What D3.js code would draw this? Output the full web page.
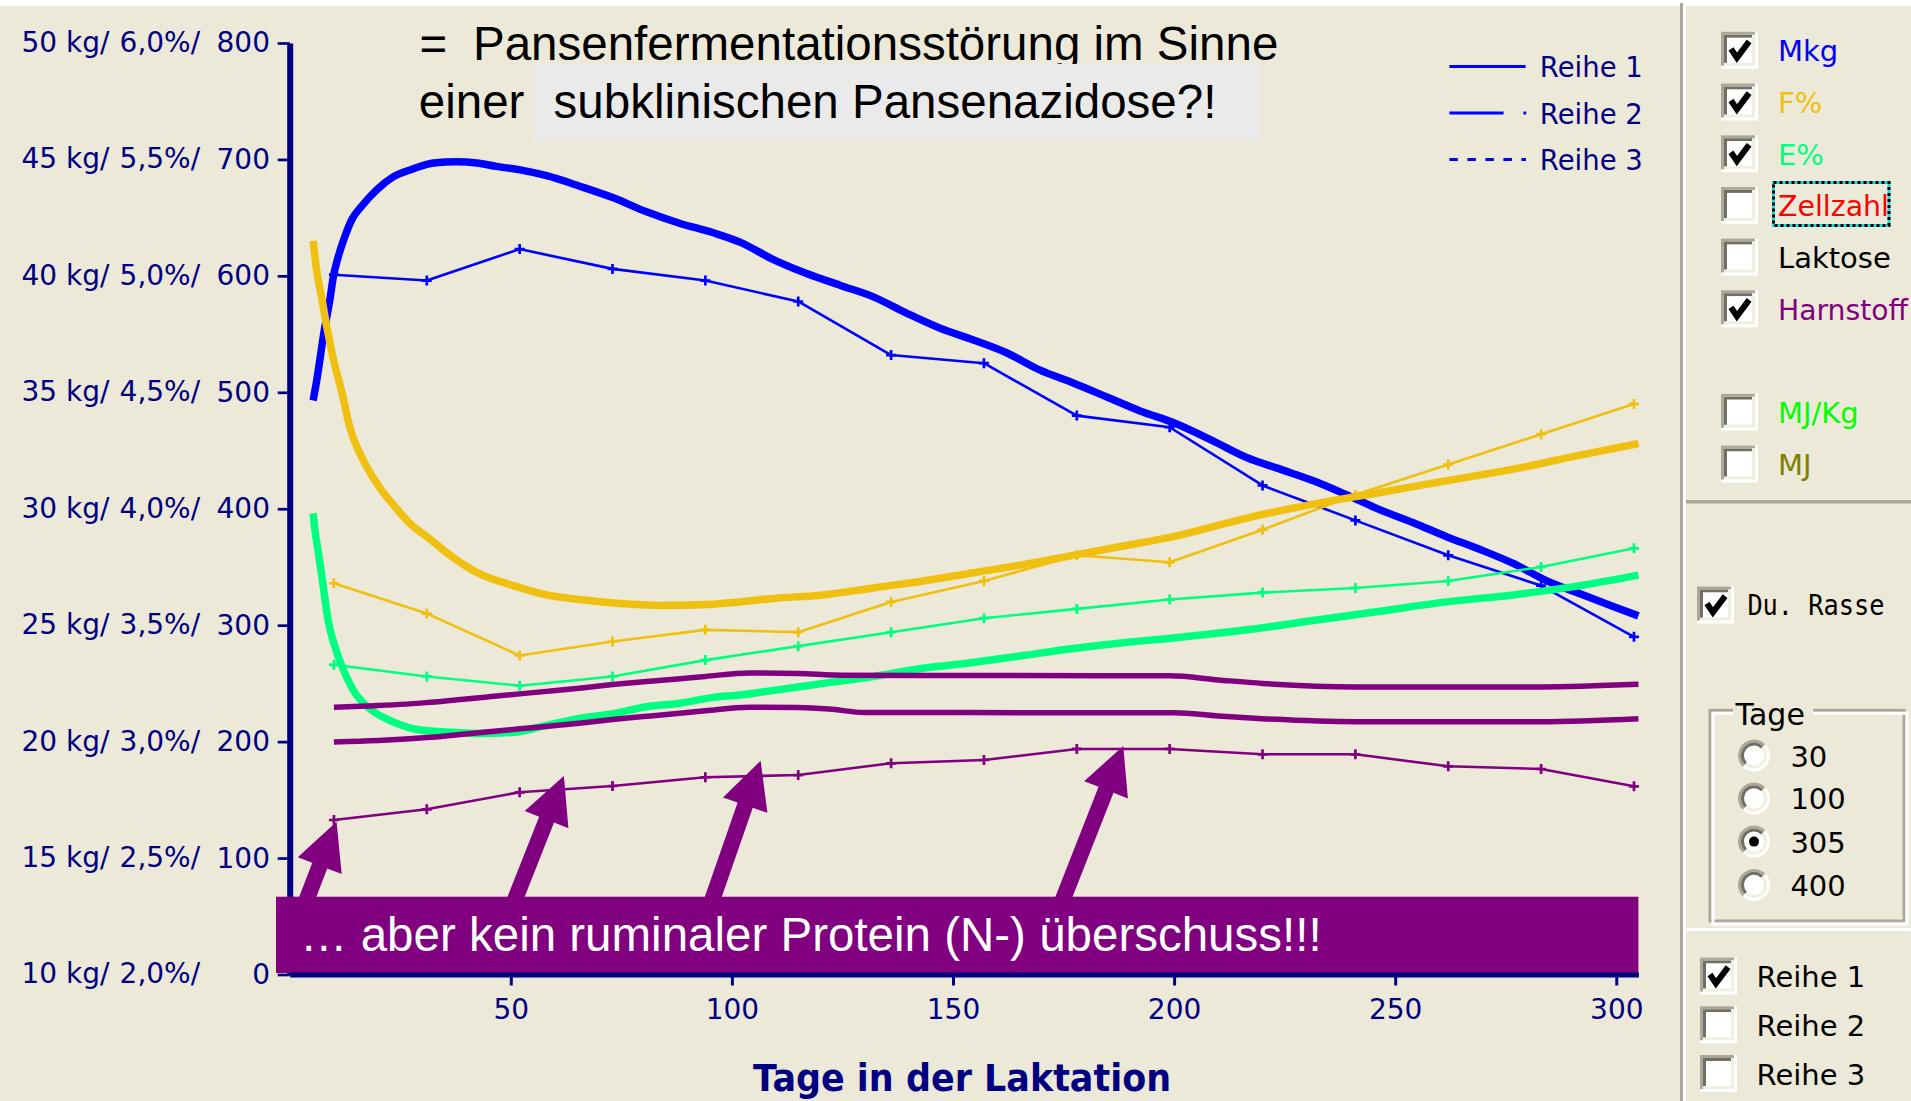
<!DOCTYPE html>
<html>
<head>
<meta charset="utf-8">
<script src="https://cdn.jsdelivr.net/npm/d3@7"></script>
<style>
  body { margin: 0; background: #ECE9D8; overflow: hidden; }
  svg { display: block; }
</style>
</head>
<body>
<div id="vis"></div>
<script>
// ---- data ----
// test days (the + markers), 21 days apart
const testDays = [10, 31, 52, 73, 94, 115, 136, 157, 178, 199, 220, 241, 262, 283, 304];
const mkgTest = [40.05, 39.8, 41.15, 40.3, 39.8, 38.9, 36.6, 36.25, 34.0, 33.5, 31.0, 29.5, 28.0, 26.7, 24.5];
const fettTest = [3.68, 3.55, 3.37, 3.43, 3.48, 3.47, 3.60, 3.69, 3.80, 3.77, 3.91, 4.06, 4.19, 4.32, 4.45];
const eiweissTest = [3.33, 3.28, 3.24, 3.28, 3.35, 3.41, 3.47, 3.53, 3.57, 3.61, 3.64, 3.66, 3.69, 3.75, 3.83];
const harnstoffTest = [132.7, 141.9, 156.5, 161.9, 169.4, 171.3, 181.4, 184.2, 193.7, 193.7, 189.1, 189.1, 178.8, 176.5, 161.6];

// smooth curves [day, value]
const mkgCurve = [[5.3,34.65],[6.1,35.5],[6.9,36.5],[7.6,37.4],[9.1,39.0],[9.9,40.0],[10.8,40.7],[12.5,41.7],[14,42.4],[16.3,43.0],[19.7,43.7],[23.4,44.25],[28,44.6],[32.5,44.85],[37.8,44.9],[42.3,44.85],[46.8,44.7],[52.1,44.55],[58.1,44.3],[65.6,43.85],[73.2,43.35],[80.7,42.75],[88.3,42.25],[95.8,41.85],[101.8,41.45],[109.4,40.7],[116.9,40.1],[124.4,39.6],[132,39.1],[139.5,38.4],[147.1,37.75],[154.6,37.25],[162.1,36.7],[169.7,35.95],[177.2,35.4],[184.8,34.8],[192.3,34.2],[199.8,33.7],[208.9,32.9],[216.4,32.2],[224,31.7],[231.5,31.2],[239,30.6],[246.6,29.95],[254.1,29.4],[261.6,28.8],[269.2,28.25],[276.7,27.65],[284.3,26.9],[291.8,26.35],[299.3,25.8],[305,25.4]];
const fettCurve = [[5.3,5.15],[6.2,5.01],[7.2,4.91],[8.4,4.78],[9.9,4.64],[11.8,4.50],[13.6,4.35],[16.6,4.21],[20.4,4.09],[24.2,4.0],[27,3.94],[31.7,3.87],[37,3.79],[43,3.72],[50.6,3.67],[58.1,3.63],[65.6,3.61],[73.2,3.595],[84.5,3.585],[95.8,3.59],[101.8,3.60],[109.4,3.615],[120.7,3.63],[132,3.66],[143.3,3.69],[154.6,3.725],[165.9,3.76],[177.2,3.80],[188.5,3.84],[199.8,3.88],[216.4,3.96],[231.5,4.02],[246.6,4.07],[261.6,4.12],[276.7,4.17],[291.8,4.23],[305,4.28]];
const eiweissCurve = [[5.3,3.98],[5.7,3.91],[6.5,3.81],[7.6,3.665],[8.7,3.52],[10.2,3.41],[12.1,3.31],[14.4,3.22],[18.2,3.14],[23.4,3.085],[29.5,3.05],[37,3.04],[43,3.035],[50.6,3.04],[58.1,3.07],[65.6,3.10],[73.2,3.12],[80.7,3.15],[88.3,3.165],[95.8,3.19],[101.8,3.20],[109.4,3.22],[120.7,3.25],[132,3.28],[143.3,3.315],[154.6,3.34],[165.9,3.37],[177.2,3.40],[188.5,3.425],[199.8,3.445],[216.4,3.48],[231.5,3.52],[246.6,3.56],[261.6,3.60],[276.7,3.63],[291.8,3.67],[305,3.715]];
const harnUpper = [[10,229.5],[20,231],[31,233.5],[38,236],[45,238.5],[52,241],[59,243.5],[66,246],[73,249],[80,251.5],[87,253.5],[94,256],[104,259],[115,258.5],[125,257],[160,256.8],[199,256.5],[210,253],[220,250],[241,247],[283,247],[305,249.2]];
const harnLower = [[10,199.7],[20,201],[31,203.5],[38,206],[45,208.5],[52,211],[59,213.5],[66,216],[73,219],[80,221.5],[87,224],[94,226.5],[104,229.5],[115,229.3],[122,228],[130,225],[200,224.8],[210,222],[220,219.7],[241,217.1],[283,217.1],[305,219.7]];

// axis ticks
const yTicks = [0, 100, 200, 300, 400, 500, 600, 700, 800];
const kgLabels = ['10 kg/', '15 kg/', '20 kg/', '25 kg/', '30 kg/', '35 kg/', '40 kg/', '45 kg/', '50 kg/'];
const pctLabels = ['2,0%/', '2,5%/', '3,0%/', '3,5%/', '4,0%/', '4,5%/', '5,0%/', '5,5%/', '6,0%/'];
const xTicks = [50, 100, 150, 200, 250, 300];

// arrows: tail on the banner, tip on the Harnstoff points
const arrowTailDays = [4.1, 51.2, 95.8, 175.1];
const arrowTipDays = [10.6, 62.0, 106.5, 188.5];
const arrowTipValues = [131.2, 170.5, 183.6, 196.2];
const arrowTailValue = 66.8;

// side panel
const panelItems = ['Mkg', 'F%', 'E%', 'Zellzahl', 'Laktose', 'Harnstoff', 'MJ/Kg', 'MJ'];
const panelColors = ['#0000FF', '#F0C010', '#00FF80', '#FF0000', '#000000', '#800080', '#00FF00', '#808000'];
const panelChecked = [true, true, true, false, false, true, false, false];
const panelSlots = [0, 1, 2, 3, 4, 5, 7, 8];
const tageOptions = ['30', '100', '305', '400'];
const tageSelected = '305';
const reiheNames = ['Reihe 1', 'Reihe 2', 'Reihe 3'];
const reiheChecked = [true, false, false];

// ---- drawing ----
const W = 1911, H = 1101;
const navy = '#000080', blue = '#0000FF', gold = '#F0C010', green = '#00FF80', purple = '#800080';

let svg = d3.select('#vis').append('svg').attr('width', W).attr('height', H);
svg.append('rect').attr('width', W).attr('height', H).attr('fill', '#ECE9D8');
svg.append('rect').attr('width', W).attr('height', 6).attr('fill', '#fff');

let x = d3.scaleLinear().domain([0, 305]).range([289.7, 1638.4]);
let y = d3.scaleLinear().domain([0, 800]).range([974.5, 43]);
let yKg = d3.scaleLinear().domain([10, 50]).range([974.5, 43]);
let yPct = d3.scaleLinear().domain([2, 6]).range([974.5, 43]);

// Y axis
let yAxis = svg.append('g')
  .attr('transform', `translate(${x(0)},0)`)
  .call(d3.axisLeft(y).tickValues(yTicks).tickSize(12).tickSizeOuter(0).tickPadding(7.7))
  .attr('font-family', 'DejaVu Sans').attr('font-size', 28);
yAxis.select('.domain').attr('stroke', navy).attr('stroke-width', 6);
yAxis.selectAll('.tick line').attr('stroke', navy).attr('stroke-width', 2.7);
yAxis.selectAll('.tick text').attr('fill', navy);

let yLab = svg.append('g').attr('font-family', 'DejaVu Sans').attr('font-size', 28).attr('fill', navy);
yTicks.forEach(function(v, i) {
  yLab.append('text').attr('x', 21.4).attr('y', y(v)).attr('dy', '0.32em').text(kgLabels[i]);
  yLab.append('text').attr('x', 119.6).attr('y', y(v)).attr('dy', '0.32em').text(pctLabels[i]);
});

// lines
let lineOf = function(ys, curve) {
  return d3.line().x(d => x(d[0])).y(d => ys(d[1])).curve(curve || d3.curveLinear);
};
let zip = (vals) => testDays.map((d, i) => [d, vals[i]]);

let plot = svg.append('g').attr('fill', 'none').attr('stroke-linejoin', 'round');

function thin(vals, ys, color) {
  let pts = zip(vals);
  plot.append('path').attr('d', lineOf(ys)(pts)).attr('stroke', color).attr('stroke-width', 2.6);
  plot.selectAll(null).data(pts).enter().append('path')
    .attr('d', d => `M${x(d[0]) - 5},${ys(d[1])}h10M${x(d[0])},${ys(d[1]) - 5}v10`)
    .attr('stroke', color).attr('stroke-width', 2.7);
}
function thick(pts, ys, color, w) {
  plot.append('path').attr('d', lineOf(ys, d3.curveMonotoneX)(pts))
    .attr('stroke', color).attr('stroke-width', w);
}

thin(mkgTest, yKg, blue);
thick(mkgCurve, yKg, blue, 7.5);
thin(fettTest, yPct, gold);
thick(fettCurve, yPct, gold, 7.5);
thin(eiweissTest, yPct, green);
thick(eiweissCurve, yPct, green, 7.5);
thin(harnstoffTest, y, purple);
thick(harnUpper, y, purple, 5.5);
thick(harnLower, y, purple, 5.5);

// legend
let leg = svg.append('g');
let legY = [66.6, 113, 159.6];
leg.append('line').attr('x1', 1449.4).attr('x2', 1525.6).attr('y1', legY[0]).attr('y2', legY[0]).attr('stroke', blue).attr('stroke-width', 3);
leg.append('line').attr('x1', 1449.4).attr('x2', 1503.6).attr('y1', legY[1]).attr('y2', legY[1]).attr('stroke', blue).attr('stroke-width', 3);
leg.append('rect').attr('x', 1523.4).attr('y', legY[1] - 1.5).attr('width', 2.8).attr('height', 3).attr('fill', blue);
leg.append('line').attr('x1', 1449.4).attr('x2', 1526).attr('y1', legY[2]).attr('y2', legY[2]).attr('stroke', blue).attr('stroke-width', 3).attr('stroke-dasharray', '8.5,9.5');
leg.selectAll('text').data(reiheNames).enter().append('text')
  .attr('x', 1539.8).attr('y', (d, i) => legY[i] + 10.5)
  .attr('font-family', 'DejaVu Sans').attr('font-size', 27.5).attr('fill', navy).text(d => d);

// arrows
function arrowPoints(x0, y0, x1, y1) {
  let dx = x1 - x0, dy = y1 - y0, L = Math.hypot(dx, dy);
  let ux = dx / L, uy = dy / L, px = -uy, py = ux;
  let hl = 47, hw = 23.5, sw = 8;
  let bx = x1 - ux * hl, by = y1 - uy * hl;
  let tx = x0 - ux * 16, ty = y0 - uy * 16;
  return [[tx + px * sw, ty + py * sw], [bx + px * sw, by + py * sw], [bx + px * hw, by + py * hw],
          [x1, y1], [bx - px * hw, by - py * hw], [bx - px * sw, by - py * sw], [tx - px * sw, ty - py * sw]];
}
arrowTipDays.forEach(function(d, i) {
  let pts = arrowPoints(x(arrowTailDays[i]), y(arrowTailValue), x(d), y(arrowTipValues[i]));
  svg.append('polygon').attr('points', pts.map(p => p.join(',')).join(' ')).attr('fill', purple);
});

// banner
svg.append('rect')
  .attr('x', x(0) - 13.7).attr('y', y(arrowTailValue))
  .attr('width', x(305) - x(0) + 13.7).attr('height', y(0) - y(arrowTailValue) - 1.5)
  .attr('fill', purple);
svg.append('text').attr('x', 300).attr('y', 951)
  .attr('font-family', 'Liberation Sans, Arial, sans-serif').attr('font-size', 47.5).attr('fill', '#fff')
  .text('\u2026 aber kein ruminaler Protein (N-) \u00fcberschuss!!!');

// X axis (on top of banner bottom)
let xAxis = svg.append('g')
  .attr('transform', `translate(0,${y(0)})`)
  .call(d3.axisBottom(x).tickValues(xTicks).tickSize(11).tickSizeOuter(0).tickPadding(13.6))
  .attr('font-family', 'DejaVu Sans').attr('font-size', 28);
xAxis.select('.domain').attr('stroke', navy).attr('stroke-width', 5);
xAxis.selectAll('.tick line').attr('stroke', navy).attr('stroke-width', 3);
xAxis.selectAll('.tick text').attr('fill', navy);

svg.append('text').attr('x', (x(0) + x(305)) / 2 - 2).attr('y', 1091)
  .attr('text-anchor', 'middle').attr('font-family', 'DejaVu Sans').attr('font-weight', 'bold')
  .attr('font-size', 37).attr('textLength', 418).attr('lengthAdjust', 'spacingAndGlyphs')
  .attr('fill', navy).text('Tage in der Laktation');

// headline annotation
let note = svg.append('g').attr('font-family', 'Liberation Sans, Arial, sans-serif').attr('font-size', 47.5).attr('fill', '#000');
note.append('text').attr('x', 419.6).attr('y', 60).text('=');
note.append('text').attr('x', 473).attr('y', 60).text('Pansenfermentationsst\u00f6rung im Sinne');
note.append('rect').attr('x', 533.5).attr('y', 64).attr('width', 726).attr('height', 76.7).attr('fill', '#EAEAEA');
note.append('text').attr('x', 418.8).attr('y', 118).text('einer');
note.append('text').attr('x', 553.6).attr('y', 118).text('subklinischen Pansenazidose?!');

// ---- side panel ----
let panel = svg.append('g');
panel.append('rect').attr('x', 1680).attr('y', 3).attr('width', 3).attr('height', H).attr('fill', '#ACA899');
panel.append('rect').attr('x', 1683).attr('y', 3).attr('width', 3).attr('height', H).attr('fill', '#fff');
panel.append('rect').attr('x', 1686).attr('y', 500).attr('width', 225).attr('height', 3.5).attr('fill', '#ACA899');
panel.append('rect').attr('x', 1686).attr('y', 928).attr('width', 225).attr('height', 3).attr('fill', '#fff');

function checkbox(g, bx, yc, checked) {
  let s = 37, by = yc - s / 2;
  g.append('rect').attr('x', bx).attr('y', by).attr('width', s).attr('height', s).attr('fill', '#fff');
  g.append('path').attr('d', `M${bx},${by}h${s - 3}v3h${-(s - 6)}v${s - 6}h-3z`).attr('fill', '#ACA899');
  g.append('rect').attr('x', bx + 3).attr('y', by + 3).attr('width', s - 6).attr('height', s - 6).attr('fill', '#F1EFE2');
  g.append('path').attr('d', `M${bx + 3},${by + 3}h${s - 9}v3h${-(s - 12)}v${s - 12}h-3z`).attr('fill', '#716F64');
  g.append('rect').attr('x', bx + 6).attr('y', by + 6).attr('width', s - 12).attr('height', s - 12).attr('fill', '#fff');
  if (checked) {
    g.append('path')
      .attr('d', `M${bx + s * 0.27},${by + s * 0.46}L${bx + s * 0.43},${by + s * 0.70}L${bx + s * 0.76},${by + s * 0.26}`)
      .attr('fill', 'none').attr('stroke', '#000').attr('stroke-width', 6).attr('stroke-linejoin', 'miter');
  }
}

panelItems.forEach(function(name, i) {
  let yc = 50.3 + panelSlots[i] * 51.7;
  checkbox(panel, 1721, yc, panelChecked[i]);
  let t = panel.append('text').attr('x', 1778).attr('y', yc + 11)
    .attr('font-family', 'DejaVu Sans').attr('font-size', 29).attr('fill', panelColors[i]).text(name);
  if (name === 'Harnstoff') t.attr('textLength', 130).attr('lengthAdjust', 'spacingAndGlyphs');
  if (name === 'Zellzahl') {
    t.attr('textLength', 111).attr('lengthAdjust', 'spacingAndGlyphs');
    panel.append('rect').attr('x', 1773.5).attr('y', 182.5).attr('width', 115.5).attr('height', 43)
      .attr('fill', 'none').attr('stroke', '#20D8D8').attr('stroke-width', 3);
    panel.append('rect').attr('x', 1773.5).attr('y', 182.5).attr('width', 115.5).attr('height', 43)
      .attr('fill', 'none').attr('stroke', '#000').attr('stroke-width', 3).attr('stroke-dasharray', '3,3');
  }
});

checkbox(panel, 1697, 605, true);
panel.append('text').attr('x', 1747.4).attr('y', 615)
  .attr('font-family', 'DejaVu Sans Mono').attr('font-size', 28)
  .attr('textLength', 137).attr('lengthAdjust', 'spacingAndGlyphs').attr('fill', '#000').text('Du. Rasse');

// Tage group box
panel.append('rect').attr('x', 1710).attr('y', 710.3).attr('width', 194).attr('height', 210.7)
  .attr('fill', 'none').attr('stroke', '#ACA899').attr('stroke-width', 3);
panel.append('rect').attr('x', 1713).attr('y', 713.3).attr('width', 194).attr('height', 210.7)
  .attr('fill', 'none').attr('stroke', '#fff').attr('stroke-width', 3);
panel.append('rect').attr('x', 1733).attr('y', 704).attr('width', 80).attr('height', 14).attr('fill', '#ECE9D8');
panel.append('text').attr('x', 1735.6).attr('y', 724.6)
  .attr('font-family', 'DejaVu Sans').attr('font-size', 30).attr('fill', '#000').text('Tage');

let radioY = [755.5, 798.4, 841.6, 884.9];
let arcOuter = d3.arc().innerRadius(13).outerRadius(16);
let arcInner = d3.arc().innerRadius(10).outerRadius(13);
tageOptions.forEach(function(t, i) {
  let g = panel.append('g').attr('transform', `translate(1754,${radioY[i]})`);
  g.append('circle').attr('r', 16).attr('fill', '#fff');
  g.append('path').attr('d', arcOuter({ startAngle: -Math.PI * 3 / 4, endAngle: Math.PI / 4 })).attr('fill', '#ACA899');
  g.append('path').attr('d', arcInner({ startAngle: -Math.PI * 3 / 4, endAngle: Math.PI / 4 })).attr('fill', '#716F64');
  g.append('path').attr('d', arcInner({ startAngle: Math.PI / 4, endAngle: Math.PI * 5 / 4 })).attr('fill', '#F1EFE2');
  if (t === tageSelected) g.append('circle').attr('r', 5).attr('fill', '#000');
  panel.append('text').attr('x', 1790.4).attr('y', radioY[i] + 11)
    .attr('font-family', 'DejaVu Sans').attr('font-size', 29).attr('fill', '#000').text(t);
});

let reiheY = [976, 1024.7, 1073.5];
reiheNames.forEach(function(name, i) {
  checkbox(panel, 1700, reiheY[i], reiheChecked[i]);
  panel.append('text').attr('x', 1756.6).attr('y', reiheY[i] + 11)
    .attr('font-family', 'DejaVu Sans').attr('font-size', 29).attr('fill', '#000').text(name);
});
</script>
</body>
</html>
